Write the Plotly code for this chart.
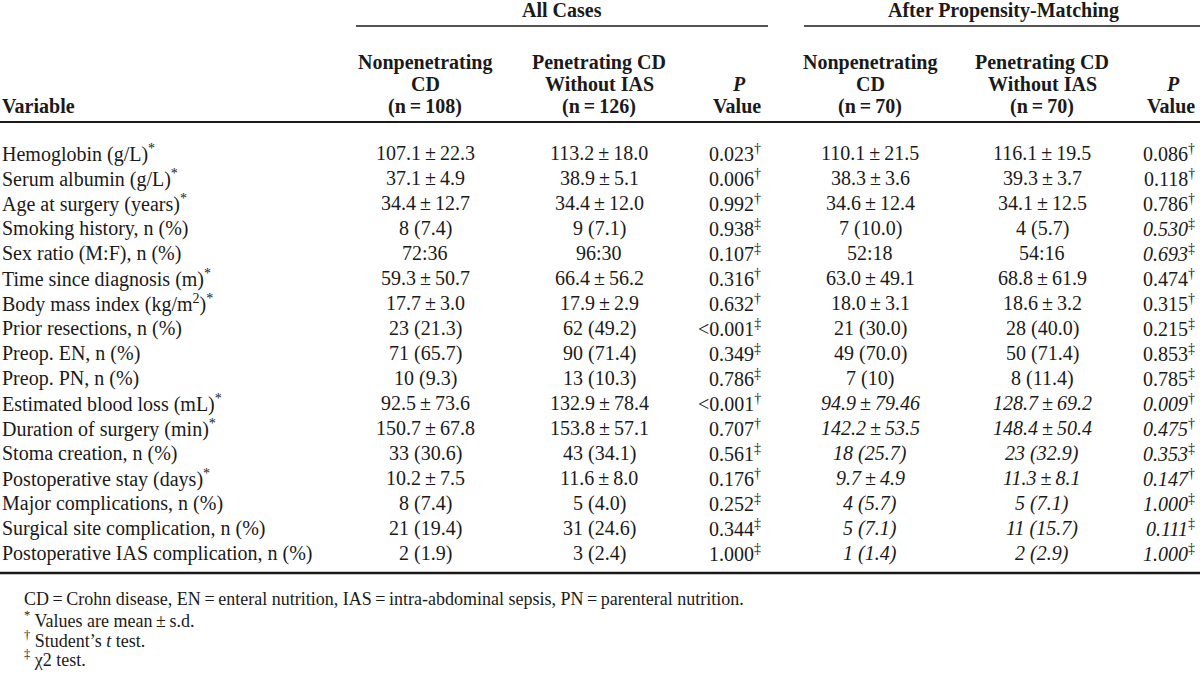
import plotly.graph_objects as go

# ---------------- data ----------------
variables = [
    "Hemoglobin (g/L)", "Serum albumin (g/L)", "Age at surgery (years)",
    "Smoking history, n (%)", "Sex ratio (M:F), n (%)", "Time since diagnosis (m)",
    "Body mass index (kg/m<sup>2</sup>)", "Prior resections, n (%)", "Preop. EN, n (%)",
    "Preop. PN, n (%)", "Estimated blood loss (mL)", "Duration of surgery (min)",
    "Stoma creation, n (%)", "Postoperative stay (days)", "Major complications, n (%)",
    "Surgical site complication, n (%)", "Postoperative IAS complication, n (%)",
]
is_mean_sd = [1, 1, 1, 0, 0, 1, 1, 0, 0, 0, 1, 1, 0, 1, 0, 0, 0]

all_nonpen = ["107.1 ± 22.3", "37.1 ± 4.9", "34.4 ± 12.7", "8 (7.4)", "72:36", "59.3 ± 50.7",
              "17.7 ± 3.0", "23 (21.3)", "71 (65.7)", "10 (9.3)", "92.5 ± 73.6", "150.7 ± 67.8",
              "33 (30.6)", "10.2 ± 7.5", "8 (7.4)", "21 (19.4)", "2 (1.9)"]
all_pen = ["113.2 ± 18.0", "38.9 ± 5.1", "34.4 ± 12.0", "9 (7.1)", "96:30", "66.4 ± 56.2",
           "17.9 ± 2.9", "62 (49.2)", "90 (71.4)", "13 (10.3)", "132.9 ± 78.4", "153.8 ± 57.1",
           "43 (34.1)", "11.6 ± 8.0", "5 (4.0)", "31 (24.6)", "3 (2.4)"]
all_p = ["0.023", "0.006", "0.992", "0.938", "0.107", "0.316", "0.632", "<0.001", "0.349",
         "0.786", "<0.001", "0.707", "0.561", "0.176", "0.252", "0.344", "1.000"]
all_test = ["t", "t", "t", "c", "c", "t", "t", "c", "c", "c", "t", "t", "c", "t", "c", "c", "c"]

psm_nonpen = ["110.1 ± 21.5", "38.3 ± 3.6", "34.6 ± 12.4", "7 (10.0)", "52:18", "63.0 ± 49.1",
              "18.0 ± 3.1", "21 (30.0)", "49 (70.0)", "7 (10)", "94.9 ± 79.46", "142.2 ± 53.5",
              "18 (25.7)", "9.7 ± 4.9", "4 (5.7)", "5 (7.1)", "1 (1.4)"]
psm_pen = ["116.1 ± 19.5", "39.3 ± 3.7", "34.1 ± 12.5", "4 (5.7)", "54:16", "68.8 ± 61.9",
           "18.6 ± 3.2", "28 (40.0)", "50 (71.4)", "8 (11.4)", "128.7 ± 69.2", "148.4 ± 50.4",
           "23 (32.9)", "11.3 ± 8.1", "5 (7.1)", "11 (15.7)", "2 (2.9)"]
psm_p = ["0.086", "0.118", "0.786", "0.530", "0.693", "0.474", "0.315", "0.215", "0.853",
         "0.785", "0.009", "0.475", "0.353", "0.147", "1.000", "0.111", "1.000"]
psm_test = ["t", "t", "t", "c", "c", "t", "t", "c", "c", "c", "t", "t", "c", "t", "c", "c", "c"]
psm_value_italic = [0, 0, 0, 0, 0, 0, 0, 0, 0, 0, 1, 1, 1, 1, 1, 1, 1]
psm_p_italic = [0, 0, 0, 1, 1, 0, 0, 0, 0, 0, 1, 1, 1, 1, 1, 1, 1]

group_titles = ["All Cases", "After Propensity-Matching"]
col_headers = [["Nonpenetrating", "CD", "(n = 108)"],
               ["Penetrating CD", "Without IAS", "(n = 126)"],
               ["Nonpenetrating", "CD", "(n = 70)"],
               ["Penetrating CD", "Without IAS", "(n = 70)"]]
footnotes = ["CD = Crohn disease, EN = enteral nutrition, IAS = intra-abdominal sepsis, PN = parenteral nutrition.",
             "<sup>*</sup> Values are mean ± s.d.",
             "<sup>†</sup> Student’s <i>t</i> test.",
             "<sup>‡</sup> χ2 test."]

# ---------------- layout params ----------------
FONT = "Liberation Serif, Times New Roman, serif"
FS = 20
COLOR = "#1a1a1a"
TS = "\u2009"

def thin(s):
    return s.replace(" ± ", TS + "±" + TS).replace(" = ", TS + "=" + TS)

col_x = [425, 599, 763, 870, 1042, 1197]   # centers (value cols) / right edges (p cols)
row_y0, row_dy = 153, 25.0
hdr_y = [62, 84, 106]

ann = []
def add(text, x, y, anchor="center", size=FS):
    ann.append(dict(text=thin(text), x=x, y=y, xref="x", yref="y", xanchor=anchor,
                    yanchor="middle", showarrow=False, align=anchor,
                    font=dict(family=FONT, size=size, color=COLOR)))

# group titles
add("<b>" + group_titles[0] + "</b>", 562, 10)
add("<b>" + group_titles[1] + "</b>", 1003, 10)
# column headers
for ci, cx in zip(range(4), [col_x[0], col_x[1], col_x[3], col_x[4]]):
    for li, line in enumerate(col_headers[ci]):
        add("<b>" + line + "</b>", cx, hdr_y[li])
for px in [col_x[2], col_x[5]]:
    add("<b><i>P</i></b>", px - 24, hdr_y[1])
    add("<b>Value</b>", px, hdr_y[2], anchor="right")
add("<b>Variable</b>", 0, hdr_y[2], anchor="left")

sup = {"t": "<sup>†</sup>", "c": "<sup>‡</sup>"}
for i, v in enumerate(variables):
    y = row_y0 + i * row_dy
    add(v + ("<sup>*</sup>" if is_mean_sd[i] else ""), 0, y, anchor="left")
    add(all_nonpen[i], col_x[0], y)
    add(all_pen[i], col_x[1], y)
    add(all_p[i].replace("<", "&lt;") + sup[all_test[i]], col_x[2], y, anchor="right")
    iv = psm_value_italic[i]
    add(("<i>%s</i>" if iv else "%s") % psm_nonpen[i], col_x[3], y)
    add(("<i>%s</i>" if iv else "%s") % psm_pen[i], col_x[4], y)
    ip = psm_p_italic[i]
    add(("<i>%s</i>" if ip else "%s") % psm_p[i] + sup[psm_test[i]], col_x[5], y, anchor="right")

foot_y = [599, 619, 639, 658]
for t, y in zip(footnotes, foot_y):
    add(t, 22, y, anchor="left", size=FS - 2)

shapes = [
    dict(type="line", x0=356, x1=768, y0=26, y1=26, xref="x", yref="y", line=dict(color=COLOR, width=1.5)),
    dict(type="line", x0=804, x1=1200, y0=26, y1=26, xref="x", yref="y", line=dict(color=COLOR, width=1.5)),
    dict(type="line", x0=0, x1=1200, y0=122, y1=122, xref="x", yref="y", line=dict(color=COLOR, width=2)),
    dict(type="line", x0=0, x1=1200, y0=573, y1=573, xref="x", yref="y", line=dict(color=COLOR, width=2.5)),
]

fig = go.Figure()
fig.add_trace(go.Scatter(x=[0, 1200], y=[0, 678], mode="markers", marker=dict(opacity=0),
                         hoverinfo="skip", showlegend=False))
fig.update_layout(
    width=1200, height=678, margin=dict(l=0, r=0, t=0, b=0),
    paper_bgcolor="white", plot_bgcolor="white",
    xaxis=dict(range=[0, 1200], visible=False, fixedrange=True),
    yaxis=dict(range=[678, 0], visible=False, fixedrange=True),
    annotations=ann, shapes=shapes, showlegend=False,
)
fig.write_html("out.html", config={"displayModeBar": False})

# remove the default page margin so the 1200x678 figure fills the window exactly
with open("out.html", encoding="utf-8") as f:
    html = f.read()
html = html.replace("<head>", "<head><style>html,body{margin:0;padding:0;overflow:hidden;}</style>", 1)
with open("out.html", "w", encoding="utf-8") as f:
    f.write(html)
